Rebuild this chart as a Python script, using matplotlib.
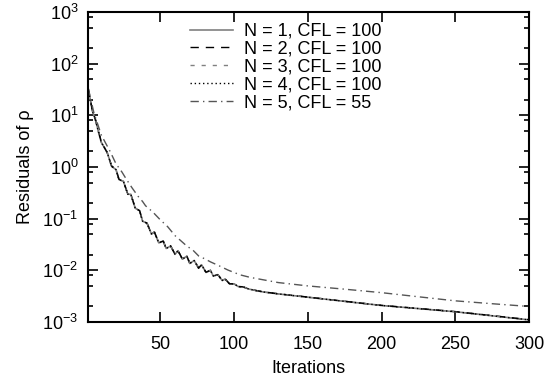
import numpy as np
import matplotlib
matplotlib.use('Agg')
import matplotlib.pyplot as plt
import matplotlib.ticker as ticker

plt.rcParams['font.family'] = ['Liberation Sans', 'DejaVu Sans']
plt.rcParams['mathtext.fontset'] = 'custom'
plt.rcParams['mathtext.rm'] = 'Liberation Sans'
plt.rcParams['mathtext.it'] = 'Liberation Sans:italic'
plt.rcParams['mathtext.bf'] = 'Liberation Sans:bold'

# iterations shared by N = 1..4
it_a = [1, 2, 4, 6, 8, 10, 12, 14, 17, 20, 22, 25, 28, 30, 33, 36, 38, 41,
        44, 46, 49, 52, 54, 57, 60, 62, 65, 68, 70, 73, 76, 78, 81, 84, 86,
        89, 92, 94, 97, 100, 103, 106, 110, 115, 120, 130, 140, 150, 175,
        200, 225, 250, 275, 300]

res_n1 = [34.7, 25.0, 12.0, 8.4, 4.9, 3.0, 2.4, 1.92, 1.03, 0.89, 0.57,
          0.53, 0.297, 0.297, 0.160, 0.142, 0.0894, 0.0818, 0.0505, 0.0551,
          0.0340, 0.0368, 0.0265, 0.0296, 0.0204, 0.0240, 0.0165, 0.0188,
          0.0136, 0.0155, 0.0110, 0.0128, 0.0091, 0.0100, 0.00773, 0.00825,
          0.00636, 0.00679, 0.00544, 0.00548, 0.00483, 0.00479, 0.00435,
          0.00405, 0.00381, 0.00350, 0.00325, 0.00302, 0.00251, 0.00209,
          0.00182, 0.00158, 0.00132, 0.00110]

res_n2 = [34.7, 24.0, 12.5, 8.2, 5.0, 3.1, 2.4, 1.90, 1.05, 0.90, 0.58,
          0.53, 0.300, 0.298, 0.162, 0.143, 0.0900, 0.0820, 0.0510, 0.0553,
          0.0342, 0.0369, 0.0267, 0.0297, 0.0206, 0.0241, 0.0166, 0.0189,
          0.0137, 0.0156, 0.0111, 0.0128, 0.0092, 0.0100, 0.00778, 0.00826,
          0.00640, 0.00680, 0.00548, 0.00550, 0.00486, 0.00481, 0.00437,
          0.00407, 0.00383, 0.00352, 0.00327, 0.00304, 0.00252, 0.00210,
          0.00183, 0.00159, 0.00133, 0.00111]

res_n3 = [34.7, 24.5, 12.2, 8.3, 4.9, 3.0, 2.4, 1.91, 1.04, 0.89, 0.57,
          0.53, 0.298, 0.297, 0.161, 0.142, 0.0897, 0.0819, 0.0507, 0.0552,
          0.0341, 0.0368, 0.0266, 0.0296, 0.0205, 0.0240, 0.0165, 0.0188,
          0.0136, 0.0155, 0.0110, 0.0128, 0.0091, 0.0100, 0.00775, 0.00825,
          0.00638, 0.00679, 0.00546, 0.00549, 0.00484, 0.00480, 0.00436,
          0.00406, 0.00382, 0.00351, 0.00326, 0.00303, 0.00251, 0.00209,
          0.00182, 0.00158, 0.00132, 0.00110]

res_n4 = [34.7, 24.8, 12.1, 8.4, 4.9, 3.0, 2.4, 1.92, 1.03, 0.89, 0.57,
          0.53, 0.297, 0.297, 0.160, 0.142, 0.0895, 0.0818, 0.0506, 0.0551,
          0.0340, 0.0368, 0.0265, 0.0296, 0.0204, 0.0240, 0.0165, 0.0188,
          0.0136, 0.0155, 0.0110, 0.0128, 0.0091, 0.0100, 0.00774, 0.00825,
          0.00637, 0.00679, 0.00545, 0.00548, 0.00483, 0.00479, 0.00435,
          0.00405, 0.00381, 0.00350, 0.00325, 0.00302, 0.00251, 0.00209,
          0.00182, 0.00158, 0.00132, 0.00110]

# N = 5, CFL = 55
it_b = [1, 3, 5, 8, 10, 13, 16, 20, 24, 27, 31, 35, 38, 40, 45, 50, 55, 60,
        63, 68, 72, 76, 80, 84, 90, 96, 104, 111, 130, 150, 175, 200, 225,
        250, 275, 300]
res_n5 = [34.7, 19.7, 11.2, 6.2, 4.17, 2.88, 2.0, 1.15, 0.80, 0.58,
          0.39, 0.27, 0.215, 0.178, 0.134, 0.095, 0.070, 0.047, 0.0395,
          0.0295, 0.0248, 0.0190, 0.0168, 0.0146, 0.0122, 0.0101, 0.0082,
          0.0073, 0.0058, 0.0050, 0.00432, 0.00370, 0.00308, 0.00257,
          0.00226, 0.00200]

labels = ['N = 1, CFL = 100', 'N = 2, CFL = 100', 'N = 3, CFL = 100',
          'N = 4, CFL = 100', 'N = 5, CFL = 55']

fig = plt.figure(figsize=(5.49, 3.85), dpi=100)
ax = fig.add_axes([0.1603, 0.1636, 0.8033, 0.8052])

ax.plot(it_a, res_n1, color='#808080', lw=1.2, ls='-', label=labels[0])
ax.plot(it_a, res_n2, color='black', lw=1.0, ls=(0, (6, 5)), label=labels[1])
ax.plot(it_a, res_n3, color='#808080', lw=1.0, ls=(0, (3, 5)), label=labels[2])
ax.plot(it_a, res_n4, color='black', lw=1.0, ls=(0, (1, 2)), label=labels[3])
ax.plot(it_b, res_n5, color='#555555', lw=1.0, ls=(0, (6, 3, 1, 3)),
        label=labels[4])

ax.set_yscale('log')
ax.set_xlim(1, 300)
ax.set_ylim(1e-3, 1e3)
ax.set_xticks([50, 100, 150, 200, 250, 300])
ax.yaxis.set_major_locator(ticker.LogLocator(base=10, numticks=10))
ax.yaxis.set_minor_locator(ticker.LogLocator(base=10, subs=[2, 5, 8],
                                             numticks=20))
ax.yaxis.set_minor_formatter(ticker.NullFormatter())
ax.yaxis.set_major_formatter(ticker.LogFormatterMathtext())

ax.tick_params(which='both', direction='in', top=True, right=True,
               labelsize=13, width=1.2)
ax.tick_params(which='major', length=7)
ax.tick_params(which='minor', length=3.6)
ax.tick_params(axis='x', which='major', pad=10)
ax.tick_params(axis='y', which='major', pad=7)
for sp in ax.spines.values():
    sp.set_linewidth(1.5)

ax.set_xlabel('Iterations', fontsize=13, labelpad=5)
ax.set_ylabel('Residuals of ρ', fontsize=13, labelpad=6)

ax.legend(loc='upper left', bbox_to_anchor=(0.207, 1.0), frameon=False,
          fontsize=13, handlelength=2.35, handletextpad=0.65,
          labelspacing=0.05, borderaxespad=0.2)

plt.savefig('out.png', dpi=100)
